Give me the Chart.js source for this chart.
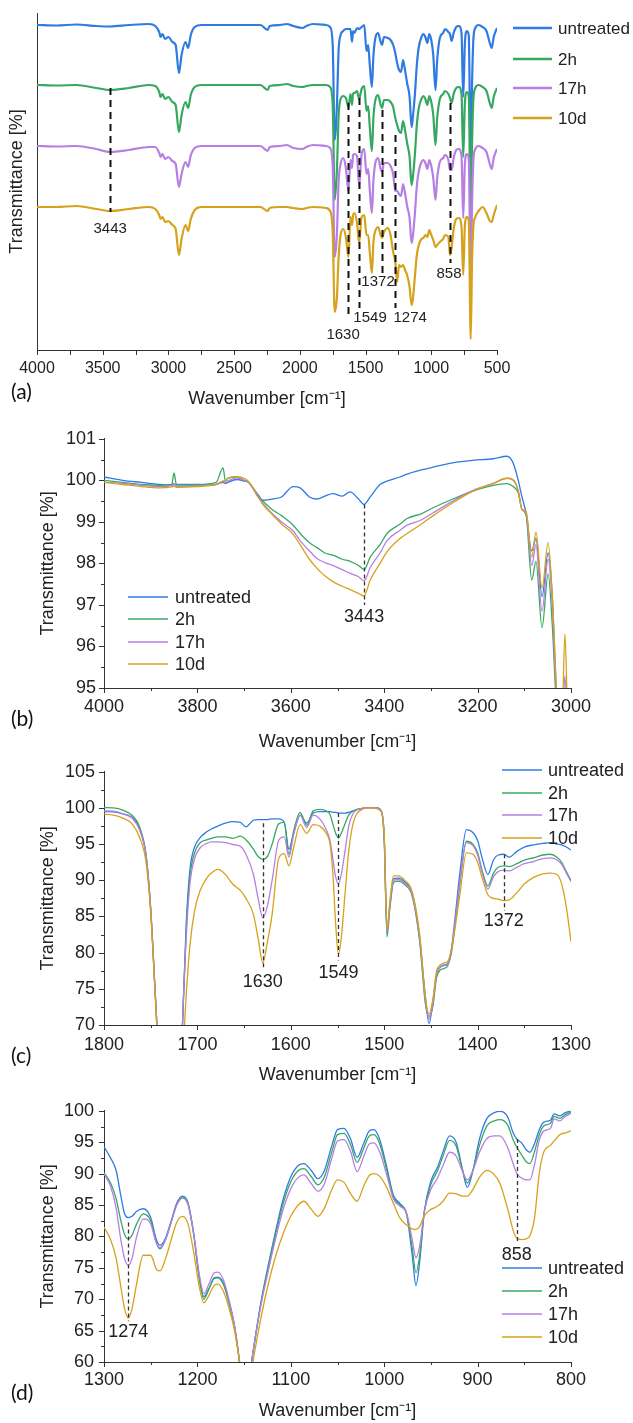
<!DOCTYPE html>
<html><head><meta charset="utf-8">
<script src="https://cdn.jsdelivr.net/npm/chart.js@4.4.1/dist/chart.umd.min.js"></script>
<style>
html,body{margin:0;padding:0;background:#fff;}
body{width:633px;height:1423px;position:relative;overflow:hidden;}
canvas{position:absolute;left:0;}
.tag{position:absolute;left:11px;font-family:Lato,'Open Sans',sans-serif;font-size:21px;color:#111;line-height:1;}
</style></head><body>
<canvas id="ca" width="633" height="420" style="top:0px"></canvas>
<canvas id="cb" width="633" height="335" style="top:420px"></canvas>
<canvas id="cc" width="633" height="336" style="top:752px"></canvas>
<canvas id="cd" width="633" height="333" style="top:1090px"></canvas>
<div class="tag" style="top:380px">(a)</div>
<div class="tag" style="top:707px">(b)</div>
<div class="tag" style="top:1044px">(c)</div>
<div class="tag" style="top:1381px">(d)</div>
<script>
const NAMES = ['untreated', '2h', '17h', '10d'];
const COLORS = ['#2f7be2', '#37a862', '#b67fe4', '#d6a21b'];

// ---- panel (a): full spectra, stacked (arbitrary offset units) ----
const aWn = [4000,3850,3700,3550,3443,3300,3150,3100,3070,3060,3045,3026,3000,2970,2945,2920,2900,2870,2850,2830,2800,2750,2500,2300,2245,2230,2150,2100,2050,1980,1950,1900,1800,1770,1750,1735,1718,1705,1690,1670,1650,1630,1615,1603,1595,1585,1565,1549,1530,1510,1493,1480,1468,1452,1440,1420,1405,1385,1375,1360,1330,1310,1290,1274,1260,1245,1230,1215,1200,1184,1165,1150,1140,1125,1110,1095,1075,1060,1045,1030,1015,1000,985,968,955,935,910,895,870,858,845,830,810,790,770,757,745,730,715,700,690,680,665,640,610,580,555,540,525,500];
const aUntreated = [327,326.5,327.5,326,325.5,327,328,326,320,315,318,313,315,310,307,279,297,310,304,317,325,327,327,327,322,326,327,328,326,324,326,328,327,325,307,212,247,302,317,321,323,323,323,310,321,319,324,323,325,327,301,307,287,265,297,317,319,310,307,315,314,312,307,299,289,282,280,292,282,269,255,225,235,257,287,305,315,318,315,309,318,312,297,262,292,314,319,323,320,318,311,319,325,326,319,255,307,321,317,192,267,312,324,327,325,321,309,304,315,324];
const a2h = [267,266.5,267,264,262,264,267,266,260,255,258,253,255,250,247,220,237,250,244,257,265,267,267,267,262,266,267,268,266,265,266,267,267,265,247,152,182,237,253,256,254,245,258,247,259,259,261,253,263,266,241,246,225,201,235,255,257,247,244,252,252,250,245,234,227,221,219,231,222,209,195,167,175,197,227,244,253,256,253,247,256,250,237,207,234,253,258,261,258,254,249,258,264,265,258,195,247,260,256,129,207,252,264,267,265,261,249,244,255,264];
const a17h = [206,205.5,206,203,200,202,205,205,199,195,198,193,195,191,188,165,178,190,185,197,204,206,206,206,201,205,206,207,204,203,205,207,206,204,186,95,118,171,188,194,184,161,192,184,197,198,196,166,198,203,178,183,162,139,172,192,194,183,180,189,189,186,178,161,161,158,156,168,159,146,134,109,116,138,166,181,190,192,189,183,192,186,174,152,174,190,194,197,192,182,182,194,202,203,196,134,186,198,194,67,146,191,203,206,204,200,188,183,194,203];
const a10d = [145,145,146,143,141,143,145,143,137,133,135,130,131,127,123,97,113,127,121,133,142,145,145,145,141,144,145,145,144,143,144,145,144,141,120,40,55,95,117,123,115,95,135,127,137,139,129,109,135,137,117,117,100,79,110,123,125,117,114,120,124,117,100,90,70,87,85,87,82,77,65,47,53,75,97,107,113,114,117,115,122,117,112,105,107,110,113,117,115,97,105,123,133,134,125,77,125,135,132,13,90,125,135,141,145,139,131,130,137,147];
const aTickLabels = [4000,3500,3000,2500,2000,1500,1000,500];

// ---- panel (b): 4000-3000 cm-1 ----
const bWn = [4000,3960,3920,3880,3855,3850,3845,3800,3760,3745,3740,3735,3715,3700,3690,3680,3670,3660,3640,3620,3595,3580,3560,3544,3527,3510,3490,3473,3455,3443,3430,3409,3394,3366,3351,3320,3295,3253,3210,3167,3137,3124,3113,3105,3096,3084,3075,3062,3049,3040,3030,3020,3013,3007,3000];
const bUntreated = [100.08,100.0,99.95,99.9,99.88,99.92,99.86,99.88,99.9,99.95,99.92,99.95,100.02,99.98,99.95,99.8,99.65,99.52,99.55,99.6,99.85,99.82,99.6,99.55,99.62,99.68,99.62,99.72,99.55,99.42,99.6,99.9,99.98,100.08,100.15,100.25,100.32,100.42,100.48,100.52,100.58,100.42,100.0,99.6,99.2,98.3,98.6,97.2,98.25,97.2,94.5,93.5,94.8,93.8,93];
const b2h = [100.0,99.95,99.9,99.88,99.9,100.18,99.9,99.9,99.95,100.3,99.98,100.05,100.08,100.0,99.95,99.8,99.6,99.5,99.3,99.15,98.92,98.72,98.5,98.38,98.25,98.2,98.1,98.05,97.95,97.85,98.15,98.45,98.72,98.95,99.08,99.2,99.34,99.55,99.74,99.88,99.92,99.85,99.7,99.3,99.15,97.6,98.05,96.45,97.75,96.5,94.3,93.5,94.6,93.5,93];
const b17h = [99.95,99.93,99.88,99.85,99.87,99.9,99.86,99.87,99.9,99.98,99.95,99.98,100.06,100.0,99.95,99.78,99.6,99.45,99.2,99.0,98.78,98.55,98.3,98.12,98.02,97.95,97.85,97.76,97.68,97.58,97.9,98.25,98.55,98.8,98.92,99.05,99.22,99.5,99.76,99.92,100.05,100.0,99.75,99.3,99.2,97.95,98.45,96.85,98.1,97.0,94.5,93.8,95.3,93.8,93];
const b10d = [99.95,99.9,99.85,99.82,99.84,99.86,99.83,99.85,99.9,99.98,100.0,100.05,100.08,100.05,99.97,99.8,99.6,99.42,99.18,98.95,98.7,98.45,98.1,97.88,97.7,97.56,97.45,97.37,97.28,97.22,97.6,98.0,98.28,98.6,98.72,98.95,99.15,99.46,99.74,99.93,100.05,100.02,99.75,99.3,99.25,98.15,98.75,97.4,98.5,97.2,94.8,94.0,96.3,94.2,93];

// ---- panel (c): 1800-1300 cm-1 ----
const cWn = [1800,1790,1780,1770,1762,1755,1750,1745,1740,1730,1720,1716,1712,1708,1703,1697,1690,1685,1678,1670,1662,1654,1648,1640,1635,1630,1625,1620,1613,1607,1602,1597,1590,1583,1576,1569,1562,1558,1555,1552,1549,1546,1542,1538,1533,1525,1515,1508,1503,1500,1497,1494,1490,1485,1478,1470,1462,1456,1452,1448,1444,1440,1436,1432,1428,1424,1419,1412,1405,1400,1395,1389,1383,1378,1372,1366,1358,1350,1340,1330,1322,1315,1310,1305,1300];
const cUntreated = [99.5,99.45,99.2,98.7,97.2,93.5,86,74,62,40,52,70,84,91.5,94.6,95.9,96.7,97.1,97.5,97.9,98.1,98.0,97.4,98.3,98.4,98.4,98.4,98.5,98.5,98.0,94.3,96.5,99.0,97.9,99.3,99.5,99.5,99.5,99.4,99.4,99.3,99.3,99.3,99.4,99.6,99.9,100.05,100.0,99.5,96,83,86.5,90.2,90.3,89.8,88.2,82,74,70.2,73,77,78,78.3,78.5,80.5,85,91,97.0,96.6,95.5,93,90.8,92.8,93.5,93.6,93.2,94.0,94.6,94.9,95.1,95.2,95.0,94.9,94.6,94.2];
const c2h = [100.05,100.0,99.7,99.0,97.4,93.5,86,74,62,40,52,70,83,90.5,93.8,95.2,95.6,95.8,96.0,96.0,95.8,96.1,95.6,94.3,93.3,92.9,93.3,95.0,97.8,98.0,93.6,96.8,99.4,97.6,99.6,99.8,99.6,99.1,97.8,96.5,95.85,96.5,97.8,99.0,99.6,99.9,100.05,100.0,99.5,95.5,82.2,86,89.7,89.9,89.4,87.8,81.5,73,71.2,72.5,76.5,77.6,77.8,78.2,80,84,89.5,95.4,95.0,93.8,91.3,89.2,91.0,91.8,92.0,91.9,92.3,92.8,93.1,93.5,93.6,93.2,92.5,91.2,90.0];
const c17h = [99.6,99.55,99.2,98.6,97.0,93.3,86,74,62,40,52,70,82,89.5,93.0,94.5,95.1,95.3,95.3,95.2,94.95,94.7,93.6,90.8,87.5,84.8,86.5,90.0,95.5,96.0,93.2,96.3,99.0,97.3,99.0,98.5,97.0,95.5,93.0,90.5,89.5,90.8,94.0,97.5,99.3,99.9,100.05,100.0,99.6,96,82.8,86.3,90.0,90.1,89.6,88.0,82,73.5,70.8,72.8,77,78,78.2,78.4,80.3,84.3,89.8,95.2,94.8,93.5,91,88.8,90.5,91.2,91.4,91.3,91.8,92.3,92.6,93.0,93.1,92.8,92.2,91.0,89.8];
const c10d = [99.15,99.0,98.6,97.8,96.0,92.5,85.5,73.5,61,38,48,64,74,81,85.8,88.6,90.3,91.0,91.5,90.8,89.45,88.6,87.5,85.3,82.0,78.6,81.5,85.3,93.0,93.7,92.0,94.5,97.7,96.5,97.7,97.5,96.5,95.0,91.0,84.0,79.8,82.0,88.0,94.0,98.0,99.7,100.0,99.9,99.4,96.3,83.3,87,90.6,90.6,90.0,88.4,82.5,74,71.5,73.5,77.4,78.3,78.6,78.8,80.5,83.5,88,93.8,93.6,92.5,90.3,88.0,87.5,87.4,87.2,87.3,88.3,89.5,90.4,90.9,91.0,90.8,89.5,86.3,81.5];

// ---- panel (d): 1300-800 cm-1 ----
const dWn = [1300,1293,1287,1282,1278,1274,1270,1265,1258,1250,1244,1240,1234,1228,1222,1216,1210,1204,1198,1193,1188,1182,1178,1172,1166,1160,1154,1150,1146,1140,1132,1124,1116,1108,1100,1092,1086,1078,1071,1064,1056,1050,1043,1036,1029,1022,1016,1011,1005,998,990,983,976,970,966,962,957,950,943,937,930,923,916,911,905,898,890,882,876,868,862,858,853,848,844,839,834,829,822,818,812,806,800];
const dUntreated = [94.3,92.5,90.5,86.5,83.6,83.0,83.2,84.0,84.4,83.0,79.5,78.6,79.8,82.5,85.3,86.4,85.3,80.5,73.5,70.4,71.6,73.4,73.5,72.5,69.5,65.5,59,54,56,62,69.5,75.5,81,86,89.5,91.3,91.6,90.5,89.2,90.5,94.5,97.0,97.2,95.5,92.6,94.8,96.8,97.0,95.5,91.5,86.5,85.2,83.5,77,72.2,76,84,88.8,91.0,93.5,96.0,95.0,90.5,87.8,90.5,95.5,98.8,99.7,99.9,99.1,96.5,95.5,94.9,93.8,93.4,94.8,97.0,98.2,98.5,99.5,99.2,99.7,100.0];
const d2h = [90.1,88.5,86,82.5,80.3,79.6,80.2,82.0,83.6,82.5,79.0,78.0,79.5,82.3,85.2,86.3,85.2,80.3,73.3,70.0,71.5,73.3,73.4,72.3,69.3,65.3,59,54,56,62,69.3,75.2,80.5,85.3,88.7,90.5,90.8,89.5,88.2,89.5,93.5,96.2,96.4,94.6,91.8,94.0,96.0,96.2,94.8,91.0,86.2,85.0,83.6,78.2,74.2,77,84,88.3,90.4,92.8,95.3,94.4,90.5,88.5,90.5,94.5,97.6,98.4,98.6,97.8,95.4,94.2,93.0,91.9,91.6,93.5,96.2,97.6,98.0,99.1,98.8,99.4,99.8];
const d17h = [90.0,88.0,84.5,79.5,76.5,75.4,76.5,80.0,82.8,82.0,79.0,78.2,79.6,82.3,85.0,86.1,85.0,80.5,74.0,70.9,72.3,74.2,74.3,73.0,69.8,65.6,59,54,56,62,69,74.6,79.8,84.4,87.6,89.4,89.8,88.4,87.2,88.4,92.5,95.2,95.4,93.5,90.3,92.7,94.7,94.9,93.5,90.2,85.9,84.8,83.7,79.5,76.6,78.5,84,87.5,89.3,91.3,93.4,92.8,90.3,89.0,90.5,93.4,95.6,96.0,96.0,94.2,91.6,90.0,89.3,89.0,89.0,91.5,95.3,96.8,97.2,98.7,98.4,99.1,99.6];
const d10d = [81.5,79.5,76.5,72.0,68.5,67.0,68.5,72.5,77.0,77.0,74.8,74.5,76.5,79.5,82.3,83.2,82.0,77.5,72.0,69.4,70.5,72.2,72.4,71.2,68.5,64.8,59,54,55,60.5,67,72.5,77,80.5,83.2,85.0,85.6,84.3,83.2,84.5,87.5,89.0,88.6,86.8,85.6,88.0,89.7,90.0,89.6,88.0,85.2,82.9,81.8,81.2,81.1,81.6,83.3,84.3,84.8,85.6,86.9,86.8,86.4,86.4,87.5,89.4,90.5,89.8,88.4,84.5,81.0,79.7,79.5,79.6,80.1,83,90.0,93.5,94.5,95.2,96.2,96.5,96.8];

const FF = "'Liberation Sans', Arial, Helvetica, sans-serif";
Chart.defaults.font.family = FF;
Chart.defaults.color = '#222';
const AXIS = '#333';

const tickMarks = {
  id: 'tickMarks',
  afterDraw(chart, args, o) {
    const ca = chart.chartArea, ctx = chart.ctx;
    ctx.save(); ctx.strokeStyle = AXIS; ctx.lineWidth = 1;
    const run = (ax, sc, isX) => {
      const n = Math.round((ax.max - ax.min) / ax.minor);
      for (let k = 0; k <= n; k++) {
        const v = ax.min + k * ax.minor;
        const major = Math.abs(v / ax.major - Math.round(v / ax.major)) < 1e-6;
        const len = major ? ax.len : ax.mlen;
        const p = Math.round(sc.getPixelForValue(v)) + 0.5;
        ctx.beginPath();
        if (isX) { ctx.moveTo(p, ca.bottom); ctx.lineTo(p, ca.bottom + len); }
        else { ctx.moveTo(ca.left, p); ctx.lineTo(ca.left - len, p); }
        ctx.stroke();
      }
    };
    if (o && o.x) run(o.x, chart.scales.x, true);
    if (o && o.y) run(o.y, chart.scales.y, false);
    ctx.restore();
  }
};
const legendLines = {
  id: 'legendLines',
  afterDraw(chart, args, o) {
    if (!o || !o.ys) return;
    const ctx = chart.ctx;
    ctx.save();
    chart.data.datasets.forEach((d, i) => {
      const y = o.ys[i];
      ctx.strokeStyle = d.borderColor; ctx.lineWidth = o.lw;
      ctx.beginPath(); ctx.moveTo(o.x0, y); ctx.lineTo(o.x1, y); ctx.stroke();
      ctx.fillStyle = '#222'; ctx.font = o.font; ctx.textAlign = 'left'; ctx.textBaseline = 'middle';
      ctx.fillText(d.label, o.tx, y + 1);
    });
    ctx.restore();
  }
};
const annot = {
  id: 'annot',
  afterDatasetsDraw(chart, args, o) {
    if (!o || !o.items) return;
    const ctx = chart.ctx, xs = chart.scales.x, ys = chart.scales.y;
    ctx.save();
    o.items.forEach(it => {
      const px = Math.round(xs.getPixelForValue(it.wn)) + 0.5;
      ctx.strokeStyle = o.color; ctx.lineWidth = o.width; ctx.setLineDash(o.dash);
      ctx.beginPath(); ctx.moveTo(px, ys.getPixelForValue(it.top)); ctx.lineTo(px, ys.getPixelForValue(it.bottom)); ctx.stroke();
      ctx.setLineDash([]);
      ctx.fillStyle = '#222'; ctx.font = o.font; ctx.textAlign = 'center'; ctx.textBaseline = 'middle';
      ctx.fillText(String(it.wn), xs.getPixelForValue(it.lx), ys.getPixelForValue(it.ly));
    });
    ctx.restore();
  }
};
Chart.register(tickMarks, legendLines, annot);

function build(id, o) {
  return new Chart(document.getElementById(id), {
    type: 'line',
    data: {
      datasets: o.series.map((ys, i) => ({
        label: NAMES[i],
        data: o.wn.map((x, k) => ({ x: x, y: ys[k] })),
        borderColor: COLORS[i], borderWidth: o.lw, pointRadius: 0, pointHoverRadius: 0,
        cubicInterpolationMode: 'monotone', fill: false, order: 4 - i
      }))
    },
    options: {
      responsive: false, animation: false, devicePixelRatio: 1,
      layout: { padding: { top: o.area.top, right: 633 - o.area.right, left: 0, bottom: 0 } },
      plugins: {
        legend: { display: false }, tooltip: { enabled: false },
        tickMarks: o.ticks, legendLines: o.legend, annot: o.annot
      },
      scales: {
        x: {
          type: 'linear', reverse: true, min: o.x.min, max: o.x.max,
          afterFit: s => { s.height = o.h - o.area.bottom; },
          ticks: { stepSize: o.x.step, autoSkip: false, maxRotation: 0, padding: o.x.pad, font: { size: o.x.fs }, color: '#222', callback: v => String(v) },
          grid: { display: false, drawTicks: false },
          border: { display: true, color: AXIS, width: 1 },
          title: { display: true, text: 'Wavenumber [cm\u207B\u00B9]', font: { size: 18 }, color: '#222', padding: { top: 0, bottom: o.x.tpad } }
        },
        y: {
          type: 'linear', min: o.y.min, max: o.y.max,
          afterFit: s => { s.width = o.area.left; },
          ticks: { display: o.y.show, stepSize: o.y.step, padding: o.y.pad, font: { size: 18 }, color: '#222', callback: v => String(v) },
          grid: { display: false, drawTicks: false },
          border: { display: true, color: AXIS, width: 1 },
          title: { display: true, text: 'Transmittance [%]', font: { size: 18 }, color: '#222', padding: { top: o.y.tpad, bottom: 0 } }
        }
      }
    }
  });
}

build('ca', {
  wn: aWn, series: [aUntreated, a2h, a17h, a10d], lw: 2.2, h: 420,
  area: { left: 37, right: 497, top: 13, bottom: 350 },
  x: { min: 500, max: 4000, step: 500, pad: 9, fs: 16, tpad: 10 },
  y: { min: 2, max: 339, show: false, step: 50, pad: 8, tpad: 6 },
  ticks: { x: { min: 500, max: 4000, major: 500, minor: 250, len: 5, mlen: 5 } },
  legend: { x0: 513, x1: 552, tx: 558, ys: [28, 59, 88, 118], lw: 2.5, font: '17px ' + FF },
  annot: { color: '#111', width: 2, dash: [7, 5], font: '15px ' + FF, items: [
    { wn: 3443, top: 264, bottom: 140, lx: 3443, ly: 123 },
    { wn: 1630, top: 249, bottom: 34, lx: 1671, ly: 17 },
    { wn: 1549, top: 254, bottom: 44, lx: 1466, ly: 34 },
    { wn: 1372, top: 242, bottom: 77, lx: 1405, ly: 70 },
    { wn: 1274, top: 217, bottom: 44, lx: 1161, ly: 34 },
    { wn: 858, top: 249, bottom: 89, lx: 865, ly: 78 }
  ] }
});

build('cb', {
  wn: bWn, series: [bUntreated, b2h, b17h, b10d], lw: 1.3, h: 335,
  area: { left: 104, right: 571, top: 15, bottom: 268 },
  x: { min: 3000, max: 4000, step: 200, pad: 8, fs: 18, tpad: 2 },
  y: { min: 95, max: 101, show: true, step: 1, pad: 8, tpad: 37 },
  ticks: { x: { min: 3000, max: 4000, major: 200, minor: 100, len: 5, mlen: 3 }, y: { min: 95, max: 101, major: 1, minor: 0.5, len: 5, mlen: 3 } },
  legend: { x0: 128, x1: 168, tx: 175, ys: [177, 199, 222, 244], lw: 1.5, font: '18px ' + FF },
  annot: { color: '#333', width: 1.3, dash: [4, 3], font: '18px ' + FF, items: [
    { wn: 3443, top: 99.42, bottom: 97.0, lx: 3443, ly: 96.7 }
  ] }
});

build('cc', {
  wn: cWn, series: [cUntreated, c2h, c17h, c10d], lw: 1.3, h: 336,
  area: { left: 104, right: 571, top: 18, bottom: 273 },
  x: { min: 1300, max: 1800, step: 100, pad: 9, fs: 18, tpad: 2 },
  y: { min: 70, max: 105, show: true, step: 5, pad: 9, tpad: 37 },
  ticks: { x: { min: 1300, max: 1800, major: 100, minor: 50, len: 5, mlen: 3 }, y: { min: 70, max: 105, major: 5, minor: 2.5, len: 5, mlen: 3 } },
  legend: { x0: 502, x1: 542, tx: 548, ys: [18, 41, 63, 86], lw: 1.5, font: '18px ' + FF },
  annot: { color: '#333', width: 1.3, dash: [4, 3], font: '18px ' + FF, items: [
    { wn: 1630, top: 97.9, bottom: 77.8, lx: 1630, ly: 75.9 },
    { wn: 1549, top: 99.3, bottom: 78.9, lx: 1549, ly: 77.2 },
    { wn: 1372, top: 93.6, bottom: 85.8, lx: 1372, ly: 84.35 }
  ] }
});

build('cd', {
  wn: dWn, series: [dUntreated, d2h, d17h, d10d], lw: 1.3, h: 333,
  area: { left: 104, right: 571, top: 16, bottom: 272 },
  x: { min: 800, max: 1300, step: 100, pad: 7, fs: 18, tpad: 1 },
  y: { min: 60, max: 100, show: true, step: 5, pad: 10, tpad: 37 },
  ticks: { x: { min: 800, max: 1300, major: 100, minor: 50, len: 5, mlen: 3 }, y: { min: 60, max: 100, major: 5, minor: 2.5, len: 5, mlen: 3 } },
  legend: { x0: 502, x1: 542, tx: 548, ys: [178, 201, 224, 247], lw: 1.5, font: '18px ' + FF },
  annot: { color: '#333', width: 1.3, dash: [4, 3], font: '18px ' + FF, items: [
    { wn: 1274, top: 82.2, bottom: 66.5, lx: 1274, ly: 64.8 },
    { wn: 858, top: 95.5, bottom: 79.2, lx: 858, ly: 77.0 }
  ] }
});
</script>
</body></html>
